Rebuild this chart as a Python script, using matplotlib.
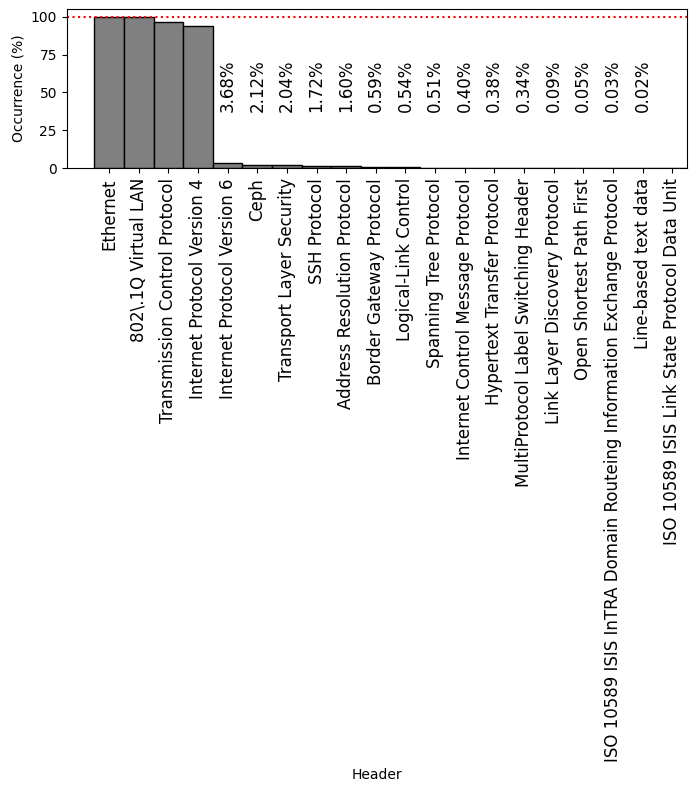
import matplotlib
matplotlib.use("Agg")
import matplotlib.pyplot as plt
import numpy as np

headers = [
    "Ethernet",
    "802\\.1Q Virtual LAN",
    "Transmission Control Protocol",
    "Internet Protocol Version 4",
    "Internet Protocol Version 6",
    "Ceph",
    "Transport Layer Security",
    "SSH Protocol",
    "Address Resolution Protocol",
    "Border Gateway Protocol",
    "Logical-Link Control",
    "Spanning Tree Protocol",
    "Internet Control Message Protocol",
    "Hypertext Transfer Protocol",
    "MultiProtocol Label Switching Header",
    "Link Layer Discovery Protocol",
    "Open Shortest Path First",
    "ISO 10589 ISIS InTRA Domain Routeing Information Exchange Protocol",
    "Line-based text data",
    "ISO 10589 ISIS Link State Protocol Data Unit",
]
occurrence = [100.0, 99.9, 96.5, 93.9, 3.68, 2.12, 2.04, 1.72, 1.60, 0.59,
              0.54, 0.51, 0.40, 0.38, 0.34, 0.09, 0.05, 0.03, 0.02, 0.0]

fig = plt.figure(figsize=(6.95, 7.92), dpi=100)
ax = fig.add_axes([0.096, 0.7875, 0.892, 0.2011])

x = np.arange(len(headers))
ax.bar(x, occurrence, width=1.0, color="gray", edgecolor="black")
ax.axhline(100, color="red", linestyle=":")

for xi, v in zip(x, occurrence):
    if 0.005 <= v < 50:
        ax.text(xi, 37, f"{v:.2f}%", rotation=90, ha="center", va="bottom",
                fontsize=12)

ax.set_xticks(x)
ax.set_xticklabels(headers, rotation=90, fontsize=12)
ax.set_xlim(-1.43, 19.49)
ax.set_ylim(0, 105)
ax.set_yticks([0, 25, 50, 75, 100])
ax.set_ylabel("Occurrence (%)")
ax.set_xlabel("Header")

fig.savefig("out.png", dpi=100)
